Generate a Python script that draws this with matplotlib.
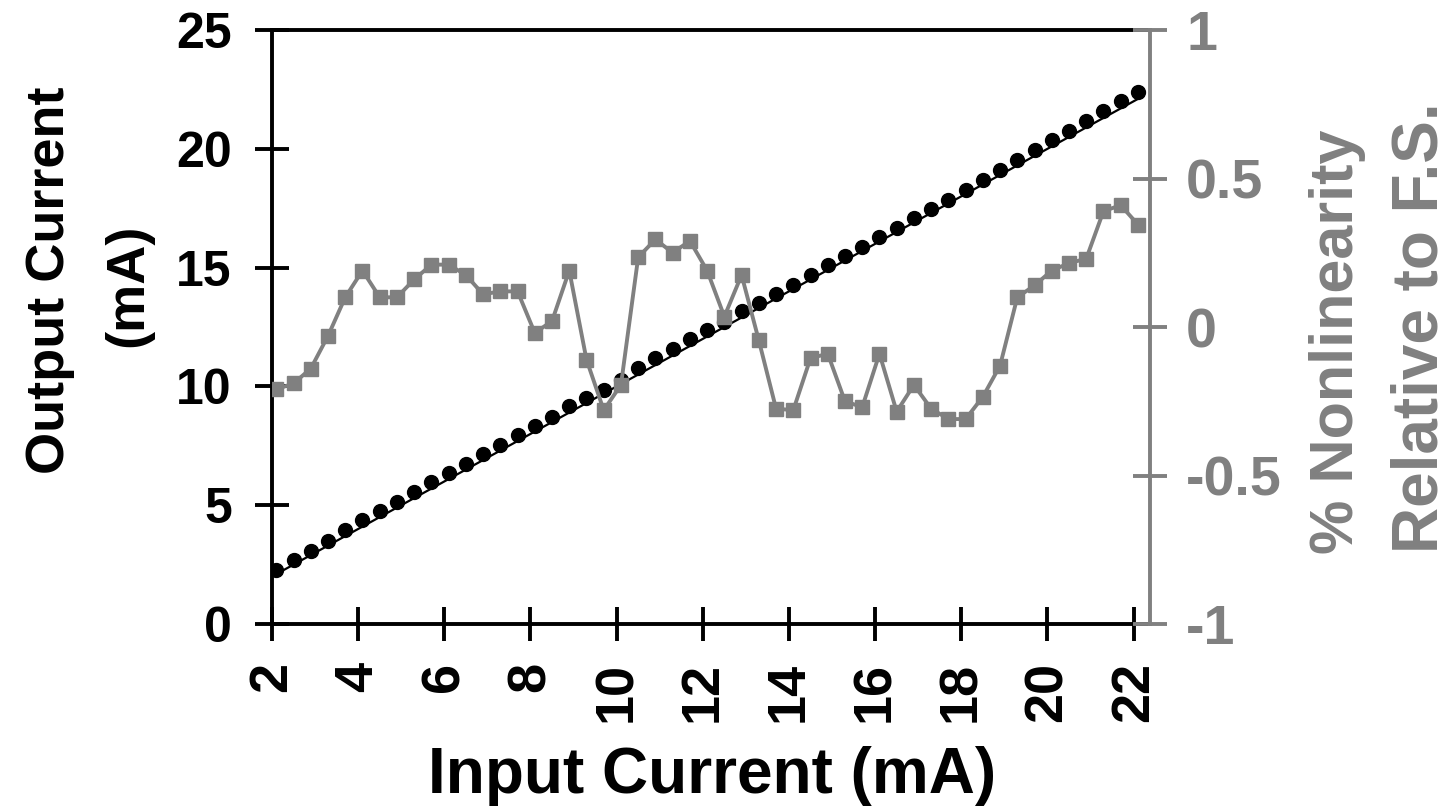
import numpy as np
import matplotlib.pyplot as plt

# data
input_current = [2.1, 2.5, 2.9, 3.3, 3.7, 4.1, 4.5, 4.9, 5.3, 5.7,
                 6.1, 6.5, 6.9, 7.3, 7.7, 8.1, 8.5, 8.9, 9.3, 9.7,
                 10.1, 10.5, 10.9, 11.3, 11.7, 12.1, 12.5, 12.9, 13.3, 13.7,
                 14.1, 14.5, 14.9, 15.3, 15.7, 16.1, 16.5, 16.9, 17.3, 17.7,
                 18.1, 18.5, 18.9, 19.3, 19.7, 20.1, 20.5, 20.9, 21.3, 21.7,
                 22.1]

output_current = [2.28, 2.68, 3.09, 3.51, 3.94, 4.36, 4.74, 5.14, 5.55, 5.96,
                  6.36, 6.75, 7.14, 7.54, 7.94, 8.32, 8.72, 9.16, 9.50, 9.86,
                  10.28, 10.77, 11.18, 11.57, 11.98, 12.36, 12.73, 13.16, 13.51, 13.87,
                  14.26, 14.70, 15.10, 15.47, 15.87, 16.30, 16.66, 17.08, 17.47, 17.86,
                  18.26, 18.67, 19.09, 19.54, 19.95, 20.36, 20.76, 21.17, 21.60, 22.00,
                  22.39]

# ideal transfer line (output = input)
ideal_x = [2.05, 22.1]
ideal_y = [2.05, 22.1]

nonlinearity = [-0.21, -0.19, -0.14, -0.03, 0.10, 0.19, 0.10, 0.10, 0.16, 0.21,
                0.21, 0.175, 0.11, 0.12, 0.12, -0.02, 0.02, 0.19, -0.11, -0.28,
                -0.195, 0.235, 0.295, 0.25, 0.29, 0.19, 0.035, 0.175, -0.045, -0.275,
                -0.28, -0.105, -0.09, -0.25, -0.27, -0.09, -0.285, -0.195, -0.275, -0.31,
                -0.31, -0.235, -0.13, 0.10, 0.14, 0.19, 0.215, 0.23, 0.39, 0.41,
                0.345]

x_ticks = [2, 4, 6, 8, 10, 12, 14, 16, 18, 20, 22]
y_ticks = [0, 5, 10, 15, 20, 25]
y2_ticks = [-1, -0.5, 0, 0.5, 1]
y2_labels = ['-1', '-0.5', '0', '0.5', '1']

gray = '#808080'

plt.rcParams['font.family'] = ['Liberation Sans', 'DejaVu Sans']
plt.rcParams['font.weight'] = 'bold'

W, H = 1453, 809
fig = plt.figure(figsize=(W / 100, H / 100), dpi=100)
ax = fig.add_axes([272 / W, 1 - 624 / H, (1150 - 272) / W, (624 - 30) / H])
ax2 = ax.twinx()

ax.plot(ideal_x, ideal_y, color='black', lw=1.6, zorder=2)
ax.plot(input_current, output_current, linestyle='none', marker='o',
        markersize=10, color='black', zorder=3)

ax2.plot(input_current, nonlinearity, color=gray, lw=2.8, marker='s',
         markersize=9.5, zorder=3)

ax.set_xlim(2, 22.38)
ax.set_ylim(0, 25)
ax2.set_ylim(-1, 1)

ax.set_xticks(x_ticks)
ax.set_yticks(y_ticks)
ax2.set_yticks(y2_ticks)
ax2.set_yticklabels(y2_labels)

for s in ['left', 'bottom', 'top']:
    ax.spines[s].set_linewidth(2.8)
    ax.spines[s].set_color('black')
ax.spines['right'].set_visible(False)
for s in ['left', 'bottom', 'top']:
    ax2.spines[s].set_visible(False)
ax2.spines['right'].set_color(gray)
ax2.spines['right'].set_linewidth(2.8)

ax.tick_params(axis='both', direction='inout', length=24, width=2.8,
               colors='black')
ax.tick_params(axis='y', pad=17, labelsize=36)
ax.tick_params(axis='x', pad=15, labelrotation=90, labelsize=39)
ax2.tick_params(axis='y', direction='inout', length=24, width=2.8,
                labelsize=40, colors=gray, pad=14)

for lab in ax.get_xticklabels() + ax.get_yticklabels() + ax2.get_yticklabels():
    lab.set_fontweight('bold')

# axis titles
fig.text(50 / W, 1 - 280 / H, 'Output Current', rotation=90, fontsize=39,
         fontweight='bold', ha='center', va='center')
fig.text(128 / W, 1 - 285 / H, '(mA)', rotation=90, fontsize=39,
         fontweight='bold', ha='center', va='center')
fig.text(712 / W, 1 - 776 / H, 'Input Current (mA)', fontsize=46,
         fontweight='bold', ha='center', va='center')
fig.text(1337 / W, 1 - 342 / H, '% Nonlinearity', rotation=90, fontsize=44,
         fontweight='bold', ha='center', va='center', color=gray)
fig.text(1420 / W, 1 - 328 / H, 'Relative to F.S.', rotation=90, fontsize=46,
         fontweight='bold', ha='center', va='center', color=gray)

fig.savefig('out.png', dpi=100, facecolor='white')
